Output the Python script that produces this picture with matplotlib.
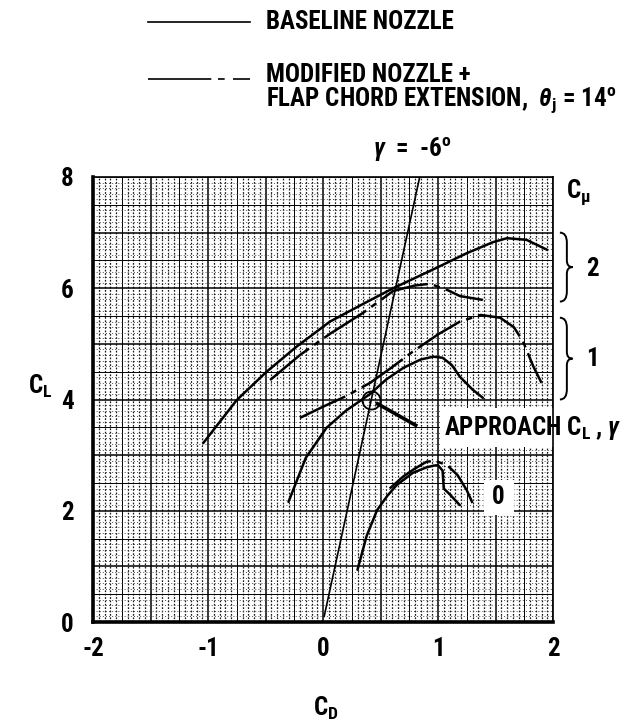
import numpy as np
import matplotlib
matplotlib.use("Agg")
import matplotlib.pyplot as plt
from matplotlib import font_manager
from matplotlib.lines import Line2D
from matplotlib.path import Path
from matplotlib.patches import PathPatch, Rectangle

# ---- data -------------------------------------------------------------
# glide-slope line, gamma = -6 deg
cd_gamma = [0.01, 0.841]
cl_gamma = [0.10, 8.00]

# C_mu = 2
cd_mu2_base = [-1.04, -0.75, -0.49, -0.23, 0.06, 0.35, 0.61, 0.99, 1.25, 1.48, 1.60, 1.77, 1.95]
cl_mu2_base = [3.22, 3.99, 4.50, 4.95, 5.40, 5.72, 6.00, 6.37, 6.63, 6.83, 6.90, 6.87, 6.69]
cd_mu2_mod = [-0.46, -0.20, 0.06, 0.35, 0.61, 0.80, 0.93, 1.08, 1.19, 1.39]
cl_mu2_mod = [4.35, 4.80, 5.18, 5.56, 5.95, 6.05, 6.08, 5.97, 5.86, 5.79]

# C_mu = 1
cd_mu1_base = [-0.30, -0.15, 0.03, 0.20, 0.41, 0.55, 0.70, 0.85, 0.96, 1.04, 1.12, 1.19, 1.30, 1.39]
cl_mu1_base = [2.16, 2.95, 3.49, 3.80, 4.10, 4.36, 4.57, 4.72, 4.77, 4.75, 4.62, 4.41, 4.18, 4.03]
cd_mu1_mod = [-0.20, 0.00, 0.20, 0.41, 0.60, 0.78, 1.00, 1.19, 1.37, 1.54, 1.66, 1.74, 1.83, 1.90]
cl_mu1_mod = [3.67, 3.87, 4.06, 4.30, 4.58, 4.86, 5.17, 5.40, 5.52, 5.47, 5.30, 5.04, 4.59, 4.30]

# C_mu = 0
cd_mu0_base = [0.30, 0.38, 0.47, 0.56, 0.64, 0.78, 0.90, 0.96, 1.00, 1.04, 1.05, 1.10, 1.19]
cl_mu0_base = [0.94, 1.55, 2.01, 2.27, 2.46, 2.68, 2.78, 2.81, 2.82, 2.72, 2.40, 2.30, 2.10]
cd_mu0_mod = [0.58, 0.70, 0.80, 0.90, 0.97, 1.08, 1.17, 1.25, 1.30]
cl_mu0_mod = [2.40, 2.62, 2.76, 2.88, 2.90, 2.82, 2.64, 2.37, 2.14]

# approach point
approach_cd = 0.42
approach_cl = 4.0

x_ticks = [-2, -1, 0, 1, 2]
y_ticks = [0, 2, 4, 6, 8]


# ---- fonts: prefer a narrow sans face ---------------------------------
def pick_font():
    entries = font_manager.fontManager.ttflist
    names = {f.name for f in entries}
    for n in ["Liberation Sans Narrow", "Roboto Condensed", "Open Sans Condensed",
              "Noto Sans Condensed", "DejaVu Sans Condensed"]:
        if n in names:
            return n, "normal"
    for base in ["DejaVu Sans", "Noto Sans", "Roboto", "Open Sans"]:
        for f in entries:
            if f.name == base and str(f.stretch) in ("condensed", "semi-condensed",
                                                      "extra-condensed"):
                return base, "condensed"
    return "Liberation Sans", "normal"


FAM, STRETCH = pick_font()
plt.rcParams["font.family"] = [FAM, "DejaVu Sans"]
plt.rcParams["font.stretch"] = STRETCH
plt.rcParams["font.weight"] = "bold"
plt.rcParams["mathtext.fontset"] = "custom"
plt.rcParams["mathtext.rm"] = FAM + ":bold"
plt.rcParams["mathtext.it"] = FAM + ":italic:bold"
plt.rcParams["mathtext.bf"] = FAM + ":bold"

FS = 18

W, H = 639, 725
fig = plt.figure(figsize=(W / 100, H / 100), dpi=100)
ax = fig.add_axes([93 / W, 1 - 622 / H, 460 / W, 445 / H])
ax.set_xlim(-2, 2)
ax.set_ylim(0, 8)


def fx(px):
    return px / W


def fy(py):
    return 1 - py / H


# ---- graph-paper grid -------------------------------------------------
for x in np.round(np.arange(-2, 2.0001, 0.05), 3):
    if abs(x * 2 - round(x * 2)) < 1e-6:
        ax.axvline(x, color="black", lw=1.1, zorder=0)
    elif abs(x * 4 - round(x * 4)) < 1e-6:
        ax.axvline(x, color="black", lw=0.7, zorder=0)
    else:
        ax.axvline(x, color="0.1", lw=0.9, ls=(0, (1.4, 1.3)), zorder=0)
for y in np.round(np.arange(0, 8.0001, 0.1), 3):
    if abs(y - round(y)) < 1e-6:
        ax.axhline(y, color="black", lw=1.1, zorder=0)
    elif abs(y * 2 - round(y * 2)) < 1e-6:
        ax.axhline(y, color="black", lw=0.7, zorder=0)
    else:
        ax.axhline(y, color="0.3", lw=0.7, ls=(0, (1, 2.2)), zorder=0)

for side in ("left", "bottom"):
    ax.spines[side].set_linewidth(2.6)
for side in ("top", "right"):
    ax.spines[side].set_linewidth(1.2)

ax.set_xticks(x_ticks)
ax.set_yticks(y_ticks)
ax.set_xticklabels([str(v) for v in x_ticks])
ax.set_yticklabels([str(v) for v in y_ticks])
ax.tick_params(length=0, labelsize=FS)
ax.tick_params(axis="x", pad=11)
ax.tick_params(axis="y", pad=14)

# ---- curves -----------------------------------------------------------
solid = dict(color="black", lw=1.8, solid_capstyle="round", zorder=3)
dashdot = dict(color="black", lw=1.8, ls=(0, (20, 2.5, 2.5, 2.5)), zorder=3)

ax.plot(cd_gamma, cl_gamma, color="black", lw=1.2, zorder=3)

ax.plot(cd_mu2_base, cl_mu2_base, **solid)
ax.plot(cd_mu2_mod, cl_mu2_mod, **dashdot)
ax.plot(cd_mu1_base, cl_mu1_base, **solid)
ax.plot(cd_mu1_mod, cl_mu1_mod, **dashdot)
ax.plot(cd_mu0_base, cl_mu0_base, **solid)
ax.plot(cd_mu0_mod, cl_mu0_mod, **dashdot)

# approach point and leader
ax.plot([approach_cd], [approach_cl], marker="o", ms=13, mfc="none",
        mec="black", mew=1.3, zorder=4)
ax.plot([approach_cd + 0.04, 0.82], [approach_cl - 0.06, 3.52],
        color="black", lw=2.6, solid_capstyle="butt", zorder=4)

# ---- labels inside / right of the axes --------------------------------
ax.add_patch(Rectangle((1.02, 3.15), 1.2, 0.7, facecolor="white",
                       edgecolor="none", zorder=2, clip_on=False))
ax.text(1.05, 3.48, r"APPROACH C$_\mathregular{L}$ , $\gamma$", fontsize=FS,
        ha="left", va="center", zorder=5, clip_on=False)

ax.add_patch(Rectangle((1.40, 1.93), 0.26, 0.62, facecolor="white",
                       edgecolor="none", zorder=2))
ax.text(1.52, 2.25, "0", fontsize=FS, ha="center", va="center", zorder=5)


def brace(y_top, y_bot, x0=2.06, w=0.11):
    ym = 0.5 * (y_top + y_bot)
    xm = x0 + w * 0.55
    verts = [
        (x0, y_top), (xm, y_top), (xm, y_top - 0.18),
        (xm, ym + 0.12),
        (xm, ym), (x0 + w, ym),
        (xm, ym), (xm, ym - 0.12),
        (xm, y_bot + 0.18),
        (xm, y_bot), (x0, y_bot),
    ]
    codes = [Path.MOVETO, Path.CURVE3, Path.CURVE3,
             Path.LINETO,
             Path.CURVE3, Path.CURVE3,
             Path.CURVE3, Path.CURVE3,
             Path.LINETO,
             Path.CURVE3, Path.CURVE3]
    ax.add_patch(PathPatch(Path(verts, codes), facecolor="none",
                           edgecolor="black", lw=1.4, clip_on=False))


brace(7.0, 5.76)
brace(5.47, 4.0)
ax.text(2.34, 6.35, "2", fontsize=FS, ha="center", va="center", clip_on=False)
ax.text(2.34, 4.72, "1", fontsize=FS, ha="center", va="center", clip_on=False)
ax.text(2.22, 7.72, r"C$_\mathregular{\mu}$", fontsize=FS, ha="center",
        va="center", clip_on=False)

# ---- axis titles ------------------------------------------------------
fig.text(fx(40), fy(386), r"C$_\mathregular{L}$", fontsize=FS, ha="center",
         va="center")
fig.text(fx(326), fy(708), r"C$_\mathregular{D}$", fontsize=FS, ha="center",
         va="center")

# ---- legend and heading text ------------------------------------------
fig.add_artist(Line2D([fx(148), fx(250)], [fy(22), fy(22)],
                      color="black", lw=1.2))
fig.text(fx(266), fy(22), "BASELINE NOZZLE", fontsize=FS, ha="left",
         va="center")
fig.add_artist(Line2D([fx(148), fx(250)], [fy(79), fy(79)], color="black",
                      lw=1.2, ls=(0, (38, 4, 4, 5))))
fig.text(fx(266), fy(75), "MODIFIED NOZZLE +", fontsize=FS, ha="left",
         va="center")
fig.text(fx(266), fy(101),
         r"FLAP CHORD EXTENSION,  $\theta_\mathregular{j}$ = 14$^\mathregular{o}$",
         fontsize=FS, ha="left", va="center")
fig.text(fx(412), fy(150), r"$\gamma$  =  -6$^\mathregular{o}$", fontsize=FS,
         ha="center", va="center")

fig.savefig("out.png", dpi=100)
